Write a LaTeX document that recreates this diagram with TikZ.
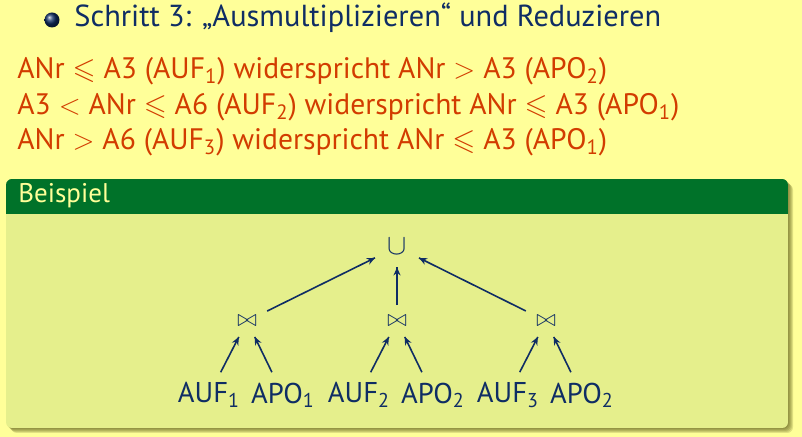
\documentclass[tikz,border=0pt]{standalone}
\usepackage{fontspec}
\setmainfont{PT Sans}
\usepackage{amssymb}
\usetikzlibrary{arrows.meta,decorations.markings}
\definecolor{slidebg}{RGB}{255,255,153}
\definecolor{blockbody}{RGB}{229,239,140}
\definecolor{blocktitle}{RGB}{0,114,41}
\definecolor{titletext}{RGB}{255,255,153}
\definecolor{navy}{RGB}{15,45,100}
\definecolor{alert}{RGB}{210,60,0}
\definecolor{shadowc}{RGB}{90,90,20}
\tikzstyle{line} = [inner sep=0pt, anchor=base west, font=\fontsize{14.8}{17}\selectfont]
\tikzstyle{leaf} = [inner sep=5pt, text=navy, font=\fontsize{14.3}{17}\selectfont]
\tikzstyle{joinop} = [inner sep=5pt, text=navy, font=\fontsize{12}{14}\selectfont]
\tikzstyle{unionop} = [inner sep=6pt, text=navy, font=\fontsize{14.3}{17}\selectfont]

\begin{document}
\begin{tikzpicture}[x=0.5pt, y=-0.5pt, node distance=37pt]
    \tikzset{myptr/.style={navy, line width=0.8pt, decoration={markings,mark=at position 1 with %
    {\arrow{Stealth[length=4pt,width=3.5pt]}}},postaction={decorate}}}
\fill[slidebg] (0,0) rectangle (802,437);
\useasboundingbox (0,0) rectangle (802,437);

% bullet and text
\node (bullet) [circle, inner sep=0pt, minimum size=7.5pt, ball color=navy] at (52,20) {};
\node (step) [line, text=navy, font=\fontsize{15.2}{18}\selectfont] at (74,27) {Schritt 3: „Ausmultiplizieren“ und Reduzieren};
\node (line1) [line, text=alert] at (17,79) {ANr $\leqslant$ A3 (AUF\textsubscript{1}) widerspricht ANr $>$ A3 (APO\textsubscript{2})};
\node (line2) [line, text=alert] at (17,114.5) {A3 $<$ ANr $\leqslant$ A6 (AUF\textsubscript{2}) widerspricht ANr $\leqslant$ A3 (APO\textsubscript{1})};
\node (line3) [line, text=alert] at (17,150) {ANr $>$ A6 (AUF\textsubscript{3}) widerspricht ANr $\leqslant$ A3 (APO\textsubscript{1})};

% block
\foreach \s in {1,...,5}
    \fill[shadowc, opacity=0.18, rounded corners=3pt] (6+\s,179+\s) rectangle (788+\s,428+\s);
\begin{scope}
    \clip[rounded corners=3pt] (6,179) rectangle (788,428);
    \fill[blockbody] (6,179) rectangle (788,428);
    \fill[blocktitle] (6,179) rectangle (788,214);
\end{scope}
\node (title) [line, text=titletext, font=\fontsize{13.5}{16}\selectfont] at (18,203) {Beispiel};

% tree
\node (union) [unionop] at (397,247) {$\cup$};
\node (join1) [joinop, below of=union, xshift=-75pt] {$\bowtie$};
\node (join2) [joinop, below of=union] {$\bowtie$};
\node (join3) [joinop, below of=union, xshift=74.5pt] {$\bowtie$};
\node (auf1) [leaf, below of=join1, xshift=-19pt] {AUF\textsubscript{1}};
\node (apo1) [leaf, below of=join1, xshift=18pt] {APO\textsubscript{1}};
\node (auf2) [leaf, below of=join2, xshift=-19pt] {AUF\textsubscript{2}};
\node (apo2) [leaf, below of=join2, xshift=18pt] {APO\textsubscript{2}};
\node (auf3) [leaf, below of=join3, xshift=-19pt] {AUF\textsubscript{3}};
\node (apo2b) [leaf, below of=join3, xshift=18pt] {APO\textsubscript{2}};

\draw [myptr] (join1) -- (union);
\draw [myptr] (join2) -- (union);
\draw [myptr] (join3) -- (union);
\draw [myptr] (auf1) -- (join1);
\draw [myptr] (apo1) -- (join1);
\draw [myptr] (auf2) -- (join2);
\draw [myptr] (apo2) -- (join2);
\draw [myptr] (auf3) -- (join3);
\draw [myptr] (apo2b) -- (join3);
\end{tikzpicture}
\end{document}
